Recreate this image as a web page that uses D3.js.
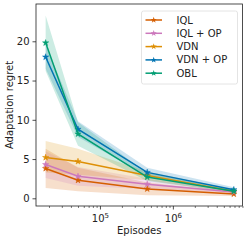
<!DOCTYPE html>
<html>
<head>
<meta charset="utf-8">
<script src="https://cdn.jsdelivr.net/npm/d3@7"></script>
<style>
  body { margin: 0; background: #fff; }
  text { font-family: "DejaVu Sans", sans-serif; fill: #222; }
</style>
</head>
<body>
<div id="chart"></div>
<script>
// data
var episodes = [1.8e4, 5e4, 4.45e5, 6.85e6];
var seriesNames = ["IQL", "IQL + OP", "VDN", "VDN + OP", "OBL"];
var seriesColors = ["#D55E00", "#CC78BC", "#DE8F05", "#0173B2", "#029E73"];

var iqlMean   = [3.8, 2.3, 1.2, 0.55];
var iqlLow    = [1.3, 0.9, 0.4, 0.3];
var iqlHigh   = [6.3, 3.9, 2.0, 0.8];
var iqlOpMean = [4.3, 2.8, 1.8, 0.8];
var iqlOpLow  = [2.6, 1.6, 1.2, 0.6];
var iqlOpHigh = [6.0, 4.0, 2.5, 1.0];
var vdnMean   = [5.2, 4.7, 2.9, 0.9];
var vdnLow    = [3.3, 3.0, 2.3, 0.7];
var vdnHigh   = [7.3, 6.3, 3.4, 1.1];
var vdnOpMean = [18.0, 8.8, 3.3, 1.1];
var vdnOpLow  = [16.5, 7.8, 2.8, 0.9];
var vdnOpHigh = [19.5, 9.8, 3.9, 1.4];
var oblMean   = [19.8, 8.2, 2.7, 0.9];
var oblLow    = [16.2, 6.7, 2.2, 0.7];
var oblHigh   = [23.3, 9.7, 3.2, 1.1];

var yTicks = [0, 5, 10, 15, 20];
var xMajorTicks = [1e5, 1e6];

var series = [
    {mean: iqlMean, low: iqlLow, high: iqlHigh},
    {mean: iqlOpMean, low: iqlOpLow, high: iqlOpHigh},
    {mean: vdnMean, low: vdnLow, high: vdnHigh},
    {mean: vdnOpMean, low: vdnOpLow, high: vdnOpHigh},
    {mean: oblMean, low: oblLow, high: oblHigh}
];

var W = 249, H = 241;
var plotL = 36, plotR = 242.5, plotT = 4, plotB = 206;

var svg = d3.select("#chart").append("svg")
    .attr("width", W)
    .attr("height", H);

var x = d3.scaleLog()
    .domain([Math.pow(10, 4.123), Math.pow(10, 6.955)])
    .range([plotL, plotR]);
var y = d3.scaleLinear()
    .domain([-0.98, 24.75])
    .range([plotB, plotT]);

// minor ticks of the log axis
var minorTicks = [];
for (var k = 4; k <= 6; k++) {
    for (var m = 2; m <= 9; m++) {
        var v = m * Math.pow(10, k);
        if (v >= x.domain()[0] && v <= x.domain()[1]) minorTicks.push(v);
    }
}

// bands
var area = d3.area()
    .x(function(d) { return x(d.x); })
    .y0(function(d) { return y(d.lo); })
    .y1(function(d) { return y(d.hi); });

series.forEach(function(s, i) {
    var pts = episodes.map(function(e, j) {
        return {x: e, lo: s.low[j], hi: s.high[j]};
    });
    svg.append("path")
        .attr("d", area(pts))
        .attr("fill", seriesColors[i])
        .attr("fill-opacity", 0.2);
});

// lines and markers
var line = d3.line()
    .x(function(d) { return x(d.x); })
    .y(function(d) { return y(d.y); });
var star = d3.symbol().type(d3.symbolStar).size(12);

series.forEach(function(s, i) {
    var pts = episodes.map(function(e, j) { return {x: e, y: s.mean[j]}; });
    svg.append("path")
        .attr("d", line(pts))
        .attr("fill", "none")
        .attr("stroke", seriesColors[i])
        .attr("stroke-width", 1.5);
    svg.selectAll(null)
        .data(pts)
        .enter().append("path")
        .attr("d", star)
        .attr("transform", function(d) { return "translate(" + x(d.x) + "," + y(d.y) + ")"; })
        .attr("fill", seriesColors[i])
        .attr("stroke", seriesColors[i])
        .attr("stroke-width", 0.5);
});

// x axis
var xAxis = svg.append("g")
    .attr("transform", "translate(0," + plotB + ")")
    .call(d3.axisBottom(x).tickValues(xMajorTicks).tickSize(3.5).tickPadding(2).tickFormat(""));
xAxis.select(".domain").remove();
xAxis.selectAll(".tick line").attr("stroke", "#222").attr("stroke-width", 0.8);
xAxis.selectAll(".tick").append("text")
    .attr("y", 16)
    .attr("text-anchor", "middle")
    .style("font-size", "10px")
    .each(function(d) {
        var t = d3.select(this);
        t.append("tspan").text("10");
        t.append("tspan")
            .attr("dy", -4)
            .style("font-size", "7px")
            .text(Math.round(Math.log10(d)));
    });

var xMinor = svg.append("g")
    .attr("transform", "translate(0," + plotB + ")")
    .call(d3.axisBottom(x).tickValues(minorTicks).tickSize(2).tickFormat(""));
xMinor.select(".domain").remove();
xMinor.selectAll(".tick line").attr("stroke", "#222").attr("stroke-width", 0.6);

// y axis
var yAxis = svg.append("g")
    .attr("transform", "translate(" + plotL + ",0)")
    .call(d3.axisLeft(y).tickValues(yTicks).tickSize(3.5).tickPadding(3));
yAxis.select(".domain").remove();
yAxis.selectAll(".tick line").attr("stroke", "#222").attr("stroke-width", 0.8);
yAxis.selectAll(".tick text")
    .style("font-size", "10px")
    .style("font-family", "DejaVu Sans")
    .attr("fill", "#222");

// frame
svg.append("rect")
    .attr("x", plotL)
    .attr("y", plotT)
    .attr("width", plotR - plotL)
    .attr("height", plotB - plotT)
    .attr("fill", "none")
    .attr("stroke", "#222")
    .attr("stroke-width", 0.8);

// axis labels
svg.append("text")
    .attr("x", (plotL + plotR) / 2)
    .attr("y", 234)
    .attr("text-anchor", "middle")
    .style("font-size", "10px")
    .text("Episodes");

svg.append("text")
    .attr("transform", "translate(13," + ((plotT + plotB) / 2) + ") rotate(-90)")
    .attr("text-anchor", "middle")
    .style("font-size", "10px")
    .text("Adaptation regret");

// legend
var legend = svg.append("g");
legend.append("rect")
    .attr("x", 141.5)
    .attr("y", 11)
    .attr("width", 96)
    .attr("height", 73)
    .attr("rx", 2)
    .attr("fill", "#fff")
    .attr("fill-opacity", 0.8)
    .attr("stroke", "#ddd")
    .attr("stroke-width", 0.8);

var rows = legend.selectAll(".row")
    .data(seriesNames)
    .enter().append("g")
    .attr("class", "row")
    .attr("transform", function(d, i) { return "translate(0," + (20 + i * 13.3) + ")"; });

rows.append("line")
    .attr("x1", 145.5)
    .attr("x2", 162)
    .attr("stroke", function(d, i) { return seriesColors[i]; })
    .attr("stroke-width", 1.5);
rows.append("path")
    .attr("d", star)
    .attr("transform", "translate(153.7,0)")
    .attr("fill", function(d, i) { return seriesColors[i]; });
rows.append("text")
    .attr("x", 176.5)
    .attr("dy", "0.35em")
    .style("font-size", "10px")
    .text(function(d) { return d; });
</script>
</body>
</html>
